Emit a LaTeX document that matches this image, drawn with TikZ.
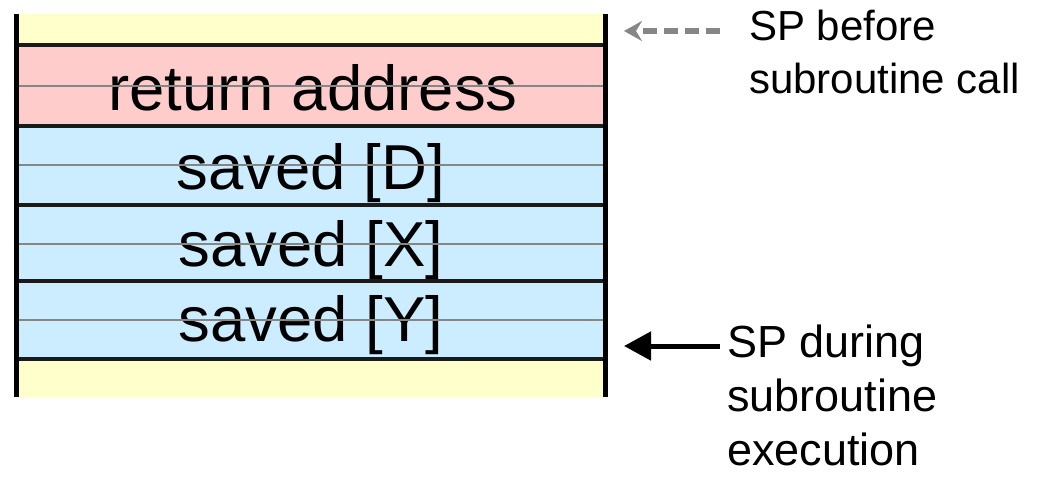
\documentclass[tikz,border=0pt]{standalone}
\usepackage{fontspec}
\setmainfont{Liberation Sans}
\usetikzlibrary{arrows.meta}
\definecolor{celly}{HTML}{FFFFCC}
\definecolor{cellr}{HTML}{FFCCCC}
\definecolor{cellb}{HTML}{CCECFF}
\definecolor{midgrey}{HTML}{868686}
\definecolor{divline}{HTML}{1A1A1A}
\tikzset{
  cell/.style={draw=none, inner sep=0pt, minimum width=584pt, anchor=north west},
  celltext/.style={inner sep=0pt, anchor=base, font=\fontsize{63.5}{75}\selectfont},
  divider/.style={draw=divline, line width=3.2pt},
  midline/.style={draw=midgrey, line width=2.8pt},
  wall/.style={draw=black, line width=5pt},
  sidelabel/.style={inner sep=0pt, anchor=north west, align=left},
  dasharrow/.style={draw=midgrey, line width=5.5pt, dash pattern=on 14pt off 7pt, -{Stealth[length=18pt, width=20pt, inset=6pt]}},
  solidarrow/.style={draw=black, line width=5pt, -{Triangle[length=27pt, width=28pt]}}
}
\begin{document}
\begin{tikzpicture}[x=1pt, y=-1pt]
\useasboundingbox[fill=white] (0,0) rectangle (1042,477);
% cells
\node[cell, fill=celly, minimum height=31pt] (top) at (19,14) {};
\node[cell, fill=cellr, minimum height=81pt] (ret) at (19,45) {};
\node[cell, fill=cellb, minimum height=79pt] (d) at (19,126) {};
\node[cell, fill=cellb, minimum height=76pt] (x) at (19,205) {};
\node[cell, fill=cellb, minimum height=78pt] (y) at (19,281) {};
\node[cell, fill=celly, minimum height=38pt] (bot) at (19,359) {};
% texts
\node[celltext] (tret) at (313,110) {return address};
\node[celltext] (td) at (311,189) {saved [D]};
\node[celltext] (tx) at (311,266) {saved [X]};
\node[celltext] (ty) at (311,341) {saved [Y]};
% grey mid lines (over text)
\draw[midline] (ret.west |- 0,86) -- (ret.east |- 0,86);
\draw[midline] (d.west |- 0,165) -- (d.east |- 0,165);
\draw[midline] (x.west |- 0,244) -- (x.east |- 0,244);
\draw[midline] (y.west |- 0,320) -- (y.east |- 0,320);
% dividers
\draw[divider] (ret.north west) -- (ret.north east);
\draw[divider] (d.north west) -- (d.north east);
\draw[divider] (x.north west) -- (x.north east);
\draw[divider] (y.north west) -- (y.north east);
\draw[divider] (bot.north west) -- (bot.north east);
% walls
\draw[wall] (16.5,14) -- (16.5,397);
\draw[wall] (605.5,14) -- (605.5,397);
% labels
\node[sidelabel, font=\fontsize{42}{53}\selectfont] (spb) at (749,10) {SP before\\subroutine call};
\node[sidelabel, font=\fontsize{45}{54}\selectfont] (spd) at (727,325) {SP during\\subroutine\\execution};
% arrows
\coordinate (tipb) at (624,31);
\coordinate (tipd) at (624,346);
\coordinate (startb) at (720,31);
\coordinate (startd) at (720,346);
\draw[dasharrow] (startb) -- (tipb);
\draw[solidarrow] (startd) -- (tipd);
\end{tikzpicture}
\end{document}
